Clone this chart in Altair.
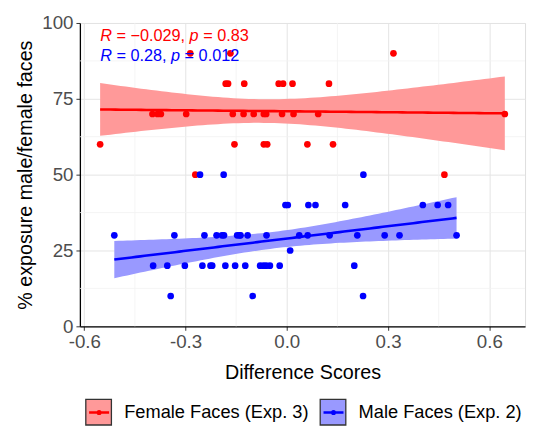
import altair as alt
import numpy as np
import pandas as pd

# ---------------- data ----------------
female_x = [-0.286, -0.167, 0.316,
            -0.181, -0.174, -0.126, -0.024, -0.011, 0.017, 0.125,
            -0.398, -0.383, -0.373, -0.298, -0.160, -0.128, -0.098, -0.068, -0.061, -0.014, 0.020, 0.093, 0.646,
            -0.553, -0.155, -0.068, -0.058, 0.061, 0.137,
            -0.271, 0.467]
female_y = [90, 90, 90,
            80, 80, 80, 80, 80, 80, 80,
            70, 70, 70, 70, 70, 70, 70, 70, 70, 70, 70, 70, 70,
            60, 60, 60, 60, 60, 60,
            50, 50]

male_x = [-0.257, -0.187, 0.227,
          -0.004, 0.003, 0.064, 0.085, 0.173, 0.403, 0.447, 0.478,
          -0.511, -0.333, -0.244, -0.208, -0.192, -0.186, -0.147, -0.140, -0.137, -0.116, -0.060, 0.037, 0.062, 0.127, 0.209, 0.290, 0.334, 0.503,
          0.010,
          -0.396, -0.354, -0.302, -0.250, -0.226, -0.221, -0.182, -0.153, -0.123, -0.079, -0.069, -0.061, -0.050, -0.021, 0.200,
          -0.344, -0.101, 0.226]
male_y = [50, 50, 50,
          40, 40, 40, 40, 40, 40, 40, 40,
          30, 30, 30, 30, 30, 30, 30, 30, 30, 30, 30, 30, 30, 30, 30, 30, 30, 30,
          25,
          20, 20, 20, 20, 20, 20, 20, 20, 20, 20, 20, 20, 20, 20, 20,
          10, 10, 10]

groups = ["Female Faces (Exp. 3)", "Male Faces (Exp. 2)"]
line_keys = ["a_female", "b_male"]
point_colors = ["#FF0000", "#0000FF"]
band_colors = ["#FF9999", "#9999FF"]
stat_red = [("R", True), (" = \u22120.029, ", False), ("p", True), (" = 0.83", False)]
stat_blue = [("R", True), (" = 0.28, ", False), ("p", True), (" = 0.012", False)]

x_ticks = [-0.6, -0.3, 0.0, 0.3, 0.6]
y_ticks = [0, 25, 50, 75, 100]
x_minor = [-0.45, -0.15, 0.15, 0.45]
y_minor = [12.5, 37.5, 62.5, 87.5]

FONT = "Liberation Sans"

# ---------------- tables ----------------
pts = pd.concat([
    pd.DataFrame({"x": female_x, "y": female_y, "group": groups[0]}),
    pd.DataFrame({"x": male_x, "y": male_y, "group": groups[1]}),
], ignore_index=True)


def tcrit(df):
    return 1.96 + 2.4 / df + 3.0 / df ** 2


def fit(xs, ys, g, k):
    xs = np.asarray(xs, float)
    ys = np.asarray(ys, float)
    n = len(xs)
    xb = xs.mean()
    sxx = ((xs - xb) ** 2).sum()
    b = ((xs - xb) * (ys - ys.mean())).sum() / sxx
    a = ys.mean() - b * xb
    s = np.sqrt(((ys - (a + b * xs)) ** 2).sum() / (n - 2))
    gx = np.linspace(xs.min(), xs.max(), 80)
    yh = a + b * gx
    se = s * np.sqrt(1.0 / n + (gx - xb) ** 2 / sxx)
    t = tcrit(n - 2)
    return pd.DataFrame({"x": gx, "yhat": yh, "lo": yh - t * se, "hi": yh + t * se,
                         "group": g, "key": k})


fits = pd.concat([fit(female_x, female_y, groups[0], line_keys[0]),
                  fit(male_x, male_y, groups[1], line_keys[1])], ignore_index=True)

all_x = female_x + male_x
span = max(all_x) - min(all_x)
x_dom = [min(all_x) - 0.05 * span, max(all_x) + 0.05 * span]

xs = alt.Scale(domain=x_dom, nice=False, zero=False)
ys = alt.Scale(domain=[0, 100], nice=False)

axis_common = dict(
    labelFont=FONT, titleFont=FONT, labelFontSize=19, titleFontSize=20,
    labelColor="#4D4D4D", titleColor="#000000", titleFontWeight="normal",
    domainColor="#000000", domainWidth=1.3, tickColor="#333333", tickSize=4,
    tickWidth=1, gridColor="#E4E4E4", gridWidth=1, labelPadding=3,
)

x_axis = alt.Axis(values=x_ticks, title="Difference Scores",
                  labelExpr="replace(format(datum.value, '.1f'), '\u2212', '-')",
                  titlePadding=11, **axis_common)
y_axis = alt.Axis(values=y_ticks, title="% exposure male/female faces",
                  titlePadding=6, **axis_common)

minor_x = alt.Chart(pd.DataFrame({"v": x_minor})).mark_rule(
    color="#F1F1F1", strokeWidth=0.8).encode(x=alt.X("v:Q", scale=xs, axis=x_axis))
minor_y = alt.Chart(pd.DataFrame({"v": y_minor})).mark_rule(
    color="#F1F1F1", strokeWidth=0.8).encode(y=alt.Y("v:Q", scale=ys, axis=y_axis))

legend_band = alt.Legend(
    title=None, orient="none", legendX=5, legendY=381, direction="horizontal",
    symbolType="M-1,-1H1V1H-1Z", symbolSize=676, symbolStrokeColor="#333333",
    symbolStrokeWidth=1.3, labelFont=FONT, labelFontSize=18.5, labelColor="#000000",
    labelOffset=12, labelLimit=400, columnPadding=8, padding=0, zindex=0, symbolOpacity=1,
)
legend_line = alt.Legend(
    title=None, orient="none", legendX=5, legendY=381, direction="horizontal",
    symbolType="M-0.78,0H0.78M0,0m-0.1,0a0.1,0.1 0 1,0 0.2,0a0.1,0.1 0 1,0 -0.2,0",
    symbolSize=676, symbolStrokeWidth=2.6, symbolFillColor="transparent",
    labelFont=FONT, labelFontSize=18.5, labelOpacity=0, labelLimit=400,
    labelExpr="datum.value == 'a_female' ? 'Female Faces (Exp. 3)' : 'Male Faces (Exp. 2)'",
    labelOffset=12, columnPadding=8, padding=0, zindex=1,
)

band = alt.Chart(fits).mark_area(opacity=1).encode(
    x=alt.X("x:Q", scale=xs, axis=x_axis),
    y=alt.Y("lo:Q", scale=ys, axis=y_axis),
    y2="hi:Q",
    fill=alt.Fill("group:N", scale=alt.Scale(domain=groups, range=band_colors), legend=legend_band),
    detail="group:N",
)

lines = alt.Chart(fits).mark_line(strokeWidth=2.6).encode(
    x=alt.X("x:Q", scale=xs),
    y=alt.Y("yhat:Q", scale=ys),
    stroke=alt.Stroke("key:N", scale=alt.Scale(domain=line_keys, range=point_colors), legend=legend_line),
    detail="key:N",
)

points = alt.Chart(pts).mark_point(filled=True, size=46, opacity=1).encode(
    x=alt.X("x:Q", scale=xs),
    y=alt.Y("y:Q", scale=ys),
    color=alt.Color("group:N", scale=alt.Scale(domain=groups, range=point_colors), legend=None),
)

# ---------------- R / p annotations ----------------
ARIAL = {" ": .278, "=": .584, "\u2212": .584, "-": .333, ".": .278, ",": .278,
         "R": .722, "p": .556}
ANN_SIZE = 16.5


def tw(s):
    return sum(ARIAL.get(c, .556) for c in s) * ANN_SIZE


def annotation(parts, x, y, color):
    layers = []
    off = 0.0
    for seg, italic in parts:
        lead = len(seg) - len(seg.lstrip())
        txt = seg.strip()
        layers.append(
            alt.Chart(pd.DataFrame({"x": [x], "y": [y], "t": [txt]})).mark_text(
                align="left", baseline="alphabetic", dx=off + tw(seg[:lead]),
                font=FONT, fontSize=ANN_SIZE, fontStyle="italic" if italic else "normal",
                color=color,
            ).encode(x=alt.X("x:Q", scale=xs), y=alt.Y("y:Q", scale=ys), text="t:N")
        )
        off += tw(seg)
    return layers


ann_x = min(all_x)
ann = annotation(stat_red, ann_x, 94.2, point_colors[0]) + annotation(stat_blue, ann_x, 87.6, point_colors[1])

chart = alt.layer(minor_x, minor_y, band, lines, points, *ann).resolve_scale(
    fill="independent", stroke="independent", color="independent"
).properties(
    width=452, height=308,
    autosize=alt.AutoSizeParams(type="none"),
    padding={"left": 73, "top": 12, "right": 4, "bottom": 98},
).configure_view(
    stroke="#A8A8A8", strokeWidth=1
).configure(background="white")

chart.save("out.html", embed_options={"renderer": "svg", "actions": False})
